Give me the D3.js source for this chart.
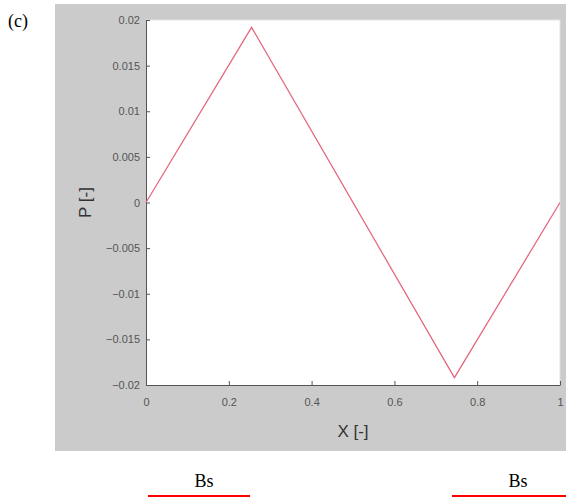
<!DOCTYPE html>
<html lang="en">
  <head>
    <meta charset="UTF-8" />
    <title>P vs X</title>
    <script src="https://d3js.org/d3.v7.min.js"></script>
    <style>
      body { margin: 0; background: #fff; }
      .tick text { font: 11px "Liberation Sans", Arial, sans-serif; fill: #555; }
      .axis-label { font: 17px "Liberation Sans", Arial, sans-serif; fill: #333; }
      .serif { font: 18px "Liberation Serif", "Times New Roman", serif; fill: #000; }
    </style>
  </head>
  <body>
    <svg width="566" height="497"></svg>
    <script>
      // data
      var xs = [0, 0.255, 0.745, 1];
      var ps = [0, 0.0192, -0.0192, 0];
      var xTicks = [0, 0.2, 0.4, 0.6, 0.8, 1];
      var yTicks = [-0.02, -0.015, -0.01, -0.005, 0, 0.005, 0.01, 0.015, 0.02];
      var bsLabels = ["Bs", "Bs"];

      var svg = d3.select("svg");

      // gray figure background
      svg.append("rect")
        .attr("x", 55).attr("y", 4)
        .attr("width", 511).attr("height", 447)
        .attr("fill", "#cbcbcb");

      // plot box (avoid the name "top", it is window.top)
      var pLeft = 146, pTop = 20, pRight = 560, pBottom = 385;

      var x = d3.scaleLinear().domain([0, 1]).range([pLeft, pRight]);
      var y = d3.scaleLinear().domain([-0.02, 0.02]).range([pBottom, pTop]);

      // white plot area
      svg.append("rect")
        .attr("x", pLeft).attr("y", pTop)
        .attr("width", pRight - pLeft).attr("height", pBottom - pTop)
        .attr("fill", "#fff");

      // faint box edges top/right
      svg.append("path")
        .attr("d", "M" + pLeft + "," + pTop + "H" + pRight + "V" + pBottom)
        .attr("fill", "none")
        .attr("stroke", "#e2e2e2");

      // axes, ticks pointing inwards like matlab
      var xAxis = svg.append("g")
        .attr("transform", "translate(0," + pBottom + ")")
        .call(d3.axisBottom(x).tickValues(xTicks).tickSizeInner(-4).tickSizeOuter(0)
          .tickFormat(function (d) { return d3.format("")(d); }));
      xAxis.selectAll(".tick text").attr("y", 13);

      var yAxis = svg.append("g")
        .attr("transform", "translate(" + pLeft + ",0)")
        .call(d3.axisLeft(y).tickValues(yTicks).tickSizeInner(-4).tickSizeOuter(0)
          .tickFormat(function (d) { return d3.format("")(+d.toFixed(3)); }));
      yAxis.selectAll(".tick text").attr("x", -6);

      svg.selectAll(".domain").attr("stroke", "#555");
      svg.selectAll(".tick line").attr("stroke", "#555");

      // the curve
      var pts = xs.map(function (d, i) { return [d, ps[i]]; });
      svg.append("path")
        .datum(pts)
        .attr("fill", "none")
        .attr("stroke", "#e46a80")
        .attr("stroke-width", 1.3)
        .attr("d", d3.line().x(function (d) { return x(d[0]); }).y(function (d) { return y(d[1]); }));

      // axis labels
      svg.append("text")
        .attr("class", "axis-label")
        .attr("x", (pLeft + pRight) / 2)
        .attr("y", 437)
        .attr("text-anchor", "middle")
        .text("X [-]");

      svg.append("text")
        .attr("class", "axis-label")
        .attr("transform", "translate(91," + (pTop + pBottom) / 2 + ") rotate(-90)")
        .attr("text-anchor", "middle")
        .text("P [-]");

      // panel letter
      svg.append("text").attr("class", "serif")
        .attr("x", 8).attr("y", 27)
        .text("(c)");

      // Bs labels with red underlines below the figure
      var bsPos = [[148, 250], [452, 566]];
      bsLabels.forEach(function (t, i) {
        var c = i === 0 ? 204 : 518;
        svg.append("text").attr("class", "serif")
          .attr("x", c).attr("y", 487)
          .attr("text-anchor", "middle")
          .text(t);
        svg.append("line")
          .attr("x1", bsPos[i][0]).attr("x2", bsPos[i][1])
          .attr("y1", 496).attr("y2", 496)
          .attr("stroke", "#ff0000").attr("stroke-width", 2);
      });
    </script>
  </body>
</html>
